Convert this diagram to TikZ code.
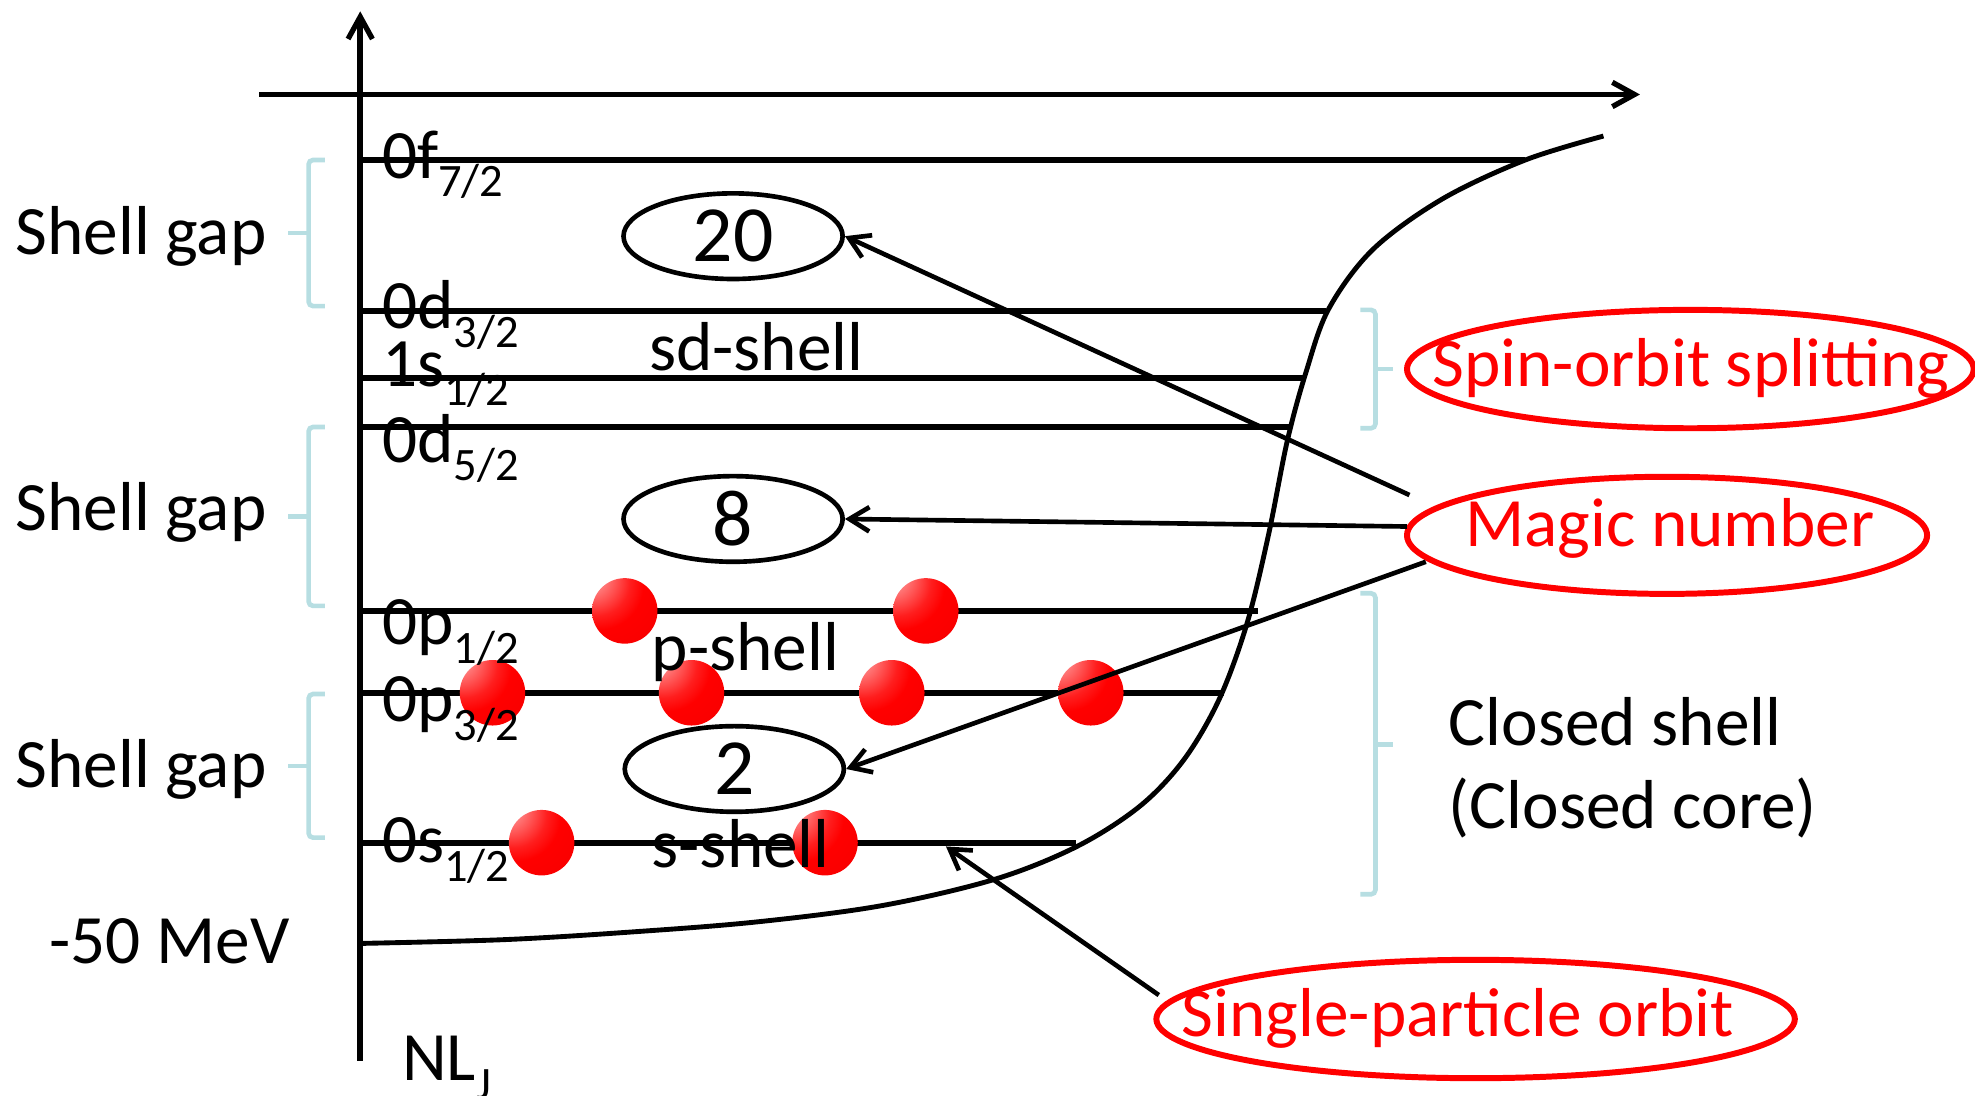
\documentclass[tikz,border=0pt]{standalone}
\usepackage{fontspec}
\setmainfont{Carlito}
\usetikzlibrary{arrows.meta,shapes.geometric}
\definecolor{brkblue}{RGB}{183,222,226}
\definecolor{pptred}{RGB}{255,0,0}
\pgfdeclareradialshading{redball}{\pgfpoint{-30bp}{30bp}}{%
  color(0bp)=(rgb,255:red,255;green,205;blue,205);
  color(9bp)=(rgb,255:red,255;green,140;blue,140);
  color(26bp)=(rgb,255:red,255;green,30;blue,30);
  color(34bp)=(rgb,255:red,255;green,0;blue,0);
  color(74bp)=(rgb,255:red,238;green,0;blue,0);
  color(90bp)=(rgb,255:red,130;green,0;blue,0);
  color(100bp)=(rgb,255:red,90;green,0;blue,0)}
\newcommand\lsub[1]{\raisebox{-8.3pt}{\fontsize{21pt}{21pt}\selectfont #1}}
\begin{document}
\begin{tikzpicture}[x=0.02cm,y=-0.02cm,
  axisline/.style={line width=2.6pt,-{Straight Barb[length=10pt,width=11pt,line width=2.4pt]}},
  lvl/.style={line width=2.6pt},
  curveline/.style={line width=2.2pt},
  arr/.style={line width=2.1pt,-{Straight Barb[length=9pt,width=11pt,line width=2.1pt]}},
  brk/.style={draw=brkblue,line width=2.1pt,rounded corners=2pt},
  lbl/.style={anchor=base west,inner sep=0pt,font=\fontsize{31.3pt}{37pt}\selectfont},
  numell/.style={draw,ellipse,line width=2.1pt,inner sep=0pt,minimum width=3.48cm,minimum height=1.36cm,font=\fontsize{36pt}{40pt}\selectfont},
  redell/.style={draw=pptred,ellipse,line width=2.7pt,inner sep=0pt},
  redtxt/.style={lbl,text=pptred},
  ball/.style={shading=redball}]
\useasboundingbox (0,0) rectangle (1568,870);

% axes
\coordinate (yb) at (286,842);
\coordinate (yt) at (286,9);
\coordinate (xl) at (206,75);
\coordinate (xr) at (1302,75);
\draw[axisline] (xl) -- (xr);
\draw[axisline] (yb) -- (yt);

% potential curve
\draw[curveline] plot[smooth,tension=0.55] coordinates {
 (286,749) (400,746) (500,740) (600,732) (700,719) (790,698) (855,672)
 (905,640) (940,603) (968,555) (990,495) (1007,425) (1022,350) (1037,295)
 (1055,245) (1090,198) (1145,158) (1211,127) (1273,108)};

% level lines
\foreach \nm/\yy/\xe in {f7/127/1211, d3/247/1053, s1/300/1037, d5/339/1025,
                          p1/485/999, p3/550/972, s0/669/854}{
  \coordinate (\nm a) at (286,\yy);
  \coordinate (\nm b) at (\xe,\yy);
  \draw[lvl] (\nm a) -- (\nm b);
}

% brackets (shell gaps)
\foreach \tp/\md/\bt in {127/185/243, 339/410/481, 551/608/665}{
  \draw[brk] (258,\tp) -- (245,\tp) -- (245,\bt) -- (258,\bt);
  \draw[brk] (245,\md) -- (229,\md);
}
% brackets right side
\foreach \tp/\md/\bt in {246/293/340, 471/591/710}{
  \draw[brk] (1080,\tp) -- (1092,\tp) -- (1092,\bt) -- (1080,\bt);
  \draw[brk] (1092,\md) -- (1106,\md);
}

% magic-number ellipses
\node[numell] (e20) at (582,187.5) {20};
\node[numell] (e8)  at (582,412) {8};
\node[numell] (e2)  at (583,610.5) {2};

% red ellipses
\node[redell,minimum width=9.0cm,minimum height=1.88cm] (spinE) at (1342,293) {};
\node[redell,minimum width=8.26cm,minimum height=1.86cm] (magicE) at (1323.5,425) {};
\node[redell,minimum width=10.14cm,minimum height=1.88cm] (singleE) at (1171.5,809) {};

% balls (nucleons)
\foreach \bx/\by in {496/485, 735/485, 391/550, 549/550, 708/550, 866/550, 430/669, 655/669}{
  \shade[ball] (\bx,\by) circle (26);
}

% arrows
\coordinate (m1) at (1119,393);
\coordinate (m2) at (1117,418);
\coordinate (m3) at (1132,446);
\coordinate (s1) at (920,790);
\coordinate (orb) at (751,672);
\draw[arr] (m1) -- (e20.east);
\draw[arr] (m2) -- (e8.east);
\draw[arr] (m3) -- (e2.east);
\draw[arr] (s1) -- (orb);

% level labels
\node[lbl] (l0f) at (303,141.6) {0f\lsub{7/2}};
\node[lbl] (l0d3) at (303,261) {0d\lsub{3/2}};
\node[lbl] (l1s) at (303,307) {1s\lsub{1/2}};
\node[lbl] (l0d5) at (303,367) {0d\lsub{5/2}};
\node[lbl] (l0p1) at (303,512) {0p\lsub{1/2}};
\node[lbl] (l0p3) at (303,573) {0p\lsub{3/2}};
\node[lbl] (l0s) at (303,685) {0s\lsub{1/2}};

% shell names
\node[lbl] (sd) at (515,294) {sd-shell};
\node[lbl] (ps) at (517,532) {p-shell};
\node[lbl] (ss) at (517,689) {s-shell};

% left texts
\node[lbl] (g1) at (12,202) {Shell gap};
\node[lbl] (g2) at (12,421) {Shell gap};
\node[lbl] (g3) at (12,625) {Shell gap};
\node[lbl] (mev) at (39,765) {-50 MeV};
\node[lbl] (nlj) at (319,858) {NL\lsub{J}};

% right texts
\node[lbl] (cs1) at (1150,591.5) {Closed shell};
\node[lbl] (cs2) at (1150,658) {(Closed core)};
\node[redtxt] (spinT) at (1137,307) {Spin-orbit splitting};
\node[redtxt] (magicT) at (1163,434) {Magic number};
\node[redtxt] (singleT) at (938,823) {Single-particle orbit};
\end{tikzpicture}
\end{document}
